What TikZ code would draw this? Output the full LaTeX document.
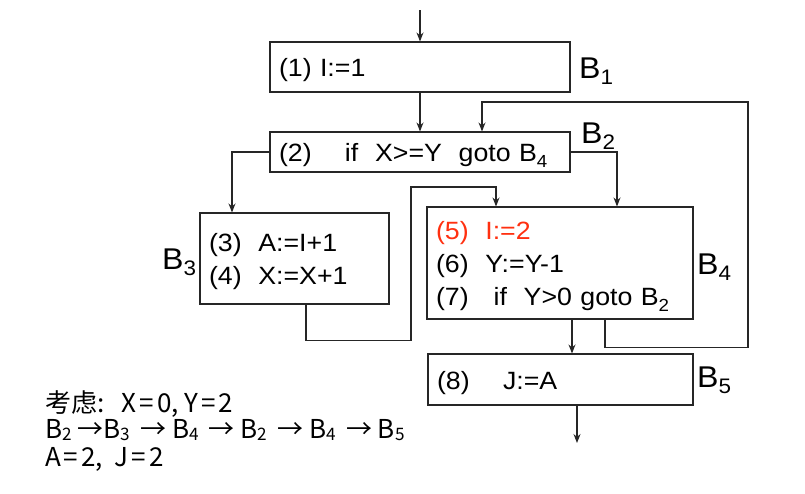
\documentclass[tikz,border=0pt]{standalone}
\usepackage{fontspec}
\setmainfont{Liberation Sans}[FakeStretch=1.07]
\newfontfamily\cjk{Noto Sans CJK SC}
\usetikzlibrary{arrows.meta,calc}
\definecolor{hot}{RGB}{255,48,16}
% lowered index, as in B_4
\newcommand\lowidx[1]{\raisebox{-0.22em}{\scalebox{0.7}{#1}}}
% a shallower index for the notes
\newcommand\noteidx[1]{\raisebox{-0.1em}{\scalebox{0.66}{#1}}}
% strut that pushes a block's text a little down
\newcommand\topgap{\rule{0pt}{25pt}}
% widened equals sign for the notes
\newcommand\eqs{\hspace{3pt}=\hspace{3pt}}
\begin{document}
\begin{tikzpicture}[x=1pt,y=-1pt,
  blk/.style={draw=black!85, line width=1.1pt, inner xsep=9pt, inner ysep=0pt,
              align=left, font=\fontsize{25}{33}\selectfont, anchor=center},
  flow/.style={draw=black!85, line width=1.1pt,
               -{Stealth[length=9pt,width=7pt,inset=3pt]}},
  blabel/.style={font=\fontsize{30}{30}\selectfont, inner sep=0pt, anchor=base west},
  note/.style={font=\cjk\fontsize{26}{26}\selectfont, inner sep=0pt, anchor=base west}]
\useasboundingbox (0,0) rectangle (805,493);

% basic blocks
\node[blk, text width=282pt, minimum height=50pt] (b1) at (420,67) {\topgap(1) I:=1};
\node[blk, text width=282pt, minimum height=40pt] (b2) at (420,152)
  {\topgap(2)\ \ \ \ if\ \ X>=Y\ \ goto B\lowidx{4}};
\node[blk, text width=171pt, minimum height=91pt] (b3) at (294.5,258.5)
  {\topgap(3)\ \ A:=I+1\\(4)\ \ X:=X+1};
\node[blk, text width=248pt, minimum height=112pt] (b4) at (560,263)
  {\topgap{\color{hot}(5)\ \ I:=2}\\(6)\ \ Y:=Y-1\\(7)\ \ \ if\ \ Y>0 goto B\lowidx{2}};
\node[blk, text width=247pt, minimum height=51pt] (b5) at (560.5,379.5)
  {\topgap(8)\ \ \ \ J:=A};

% block names
\node[blabel] (l1) at (579,78) {B\lowidx{1}};
\node[blabel] (l2) at (581,143) {B\lowidx{2}};
\node[blabel] (l3) at (162,269) {B\lowidx{3}};
\node[blabel] (l4) at (697,274) {B\lowidx{4}};
\node[blabel] (l5) at (697,387) {B\lowidx{5}};

% control flow
\coordinate (top) at (420,10);
\coordinate (c3) at (232,0);
\coordinate (c4) at (617,0);
\coordinate (c3o) at (306,0);
\coordinate (c4i) at (496,0);
\coordinate (c45) at (572,0);
\coordinate (cl) at (605,0);
\coordinate (cb) at (482,0);
\coordinate (out) at (577,443);

\draw[flow] (top) -- (b1.north);
\draw[flow] (b1.south) -- (b2.north);
\draw[flow] (b2.west) -| (c3 |- b3.north);
\draw[flow] (b2.east) -| (c4 |- b4.north);
\draw[flow] (c3o |- b3.south) -- ++(0,36) -| (411,187) -| (c4i |- b4.north);
\draw[flow] (c45 |- b4.south) -- (c45 |- b5.north);
\draw[flow] (cl |- b4.south) -- ++(0,28) -| (748,102) -| (cb |- b2.north);
\draw[flow] (out |- b5.south) -- (out);

% notes
\node[note] (n1) at (45,412) {考虑:\ \ \ X\eqs 0, Y\eqs 2};
\node[note] (n2) at (45,438) {B\noteidx{2} →B\noteidx{3}\, → B\noteidx{4}\, → B\noteidx{2}\, → B\noteidx{4}\, → B\noteidx{5}};
\node[note] (n3) at (45,466) {A\eqs 2,\ \ J\eqs 2};
\end{tikzpicture}
\end{document}
